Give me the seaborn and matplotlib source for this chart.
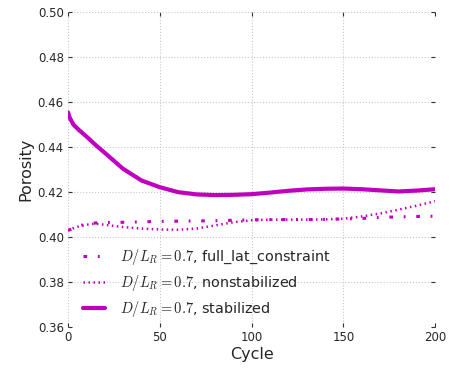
import matplotlib
matplotlib.use("Agg")
import matplotlib.pyplot as plt
import seaborn as sns
import pandas as pd

# porosity vs cycle
cycle = [0, 1, 3, 6, 10, 15, 20, 30, 40, 50, 60, 70, 80, 90, 100, 110, 120,
         130, 140, 150, 160, 170, 180, 190, 200]
full_lat = [0.4030, 0.4033, 0.4040, 0.4050, 0.4058, 0.4063, 0.4065, 0.4066,
            0.4068, 0.4070, 0.4071, 0.4072, 0.4073, 0.4075, 0.4077, 0.4078,
            0.4078, 0.4078, 0.4079, 0.4081, 0.4083, 0.4088, 0.4090, 0.4092,
            0.4093]
nonstab = [0.4030, 0.4033, 0.4040, 0.4048, 0.4055, 0.4060, 0.4055, 0.4045,
           0.4038, 0.4034, 0.4033, 0.4038, 0.4052, 0.4066, 0.4075, 0.4078,
           0.4078, 0.4078, 0.4079, 0.4082, 0.4092, 0.4105, 0.4122, 0.4140,
           0.4160]
stab = [0.4555, 0.4530, 0.4500, 0.4476, 0.4448, 0.4410, 0.4375, 0.4304,
        0.4252, 0.4222, 0.4200, 0.4190, 0.4187, 0.4188, 0.4191, 0.4198,
        0.4206, 0.4212, 0.4215, 0.4216, 0.4213, 0.4208, 0.4203, 0.4207,
        0.4213]

labels = [r"$D/L_R=0.7$, full_lat_constraint",
          r"$D/L_R=0.7$, nonstabilized",
          r"$D/L_R=0.7$, stabilized"]

sns.set_style("ticks")
plt.rcParams["font.family"] = ["DejaVu Sans"]
plt.rcParams["mathtext.fontset"] = "cm"

df = pd.DataFrame({"Cycle": cycle * 3,
                   "Porosity": full_lat + nonstab + stab,
                   "run": [labels[0]] * len(cycle) + [labels[1]] * len(cycle)
                          + [labels[2]] * len(cycle)})

col = (0.75, 0, 0.75)
fig = plt.figure(figsize=(4.5, 3.68), dpi=100)
ax = fig.add_axes([0.151, 0.111, 0.816, 0.856])

styles = {labels[0]: dict(lw=2.2, dashes=(1.2, 3.5, 0.6, 3.5)),
          labels[1]: dict(lw=1.8, dashes=(0.6, 1.4)),
          labels[2]: dict(lw=3, dashes=())}
for lab in labels:
    sub = df[df["run"] == lab]
    sns.lineplot(data=sub, x="Cycle", y="Porosity", ax=ax, color=col,
                 label=lab, **styles[lab])

ax.set_xlim(0, 200)
ax.set_ylim(0.36, 0.50)
ax.set_xticks([0, 50, 100, 150, 200])
ax.set_yticks([0.36, 0.38, 0.40, 0.42, 0.44, 0.46, 0.48, 0.50])
ax.set_yticklabels(["%.2f" % v for v in ax.get_yticks()])
ax.grid(True, linestyle=":", color="#c8c8c8", lw=0.8)
for s in ax.spines.values():
    s.set_visible(False)
ax.tick_params(direction="in", length=3, width=0.8, color="#333333",
               top=True, right=True, labelsize=8.5, pad=3)
ax.set_xlabel("Cycle", fontsize=11.5, labelpad=2)
ax.set_ylabel("Porosity", fontsize=11.5, labelpad=3)
ax.legend(loc="lower left", frameon=False, fontsize=10.4,
          bbox_to_anchor=(0.005, -0.015), handlelength=1.55, handletextpad=1.05,
          labelspacing=0.4)

fig.savefig("out.png", dpi=100)
